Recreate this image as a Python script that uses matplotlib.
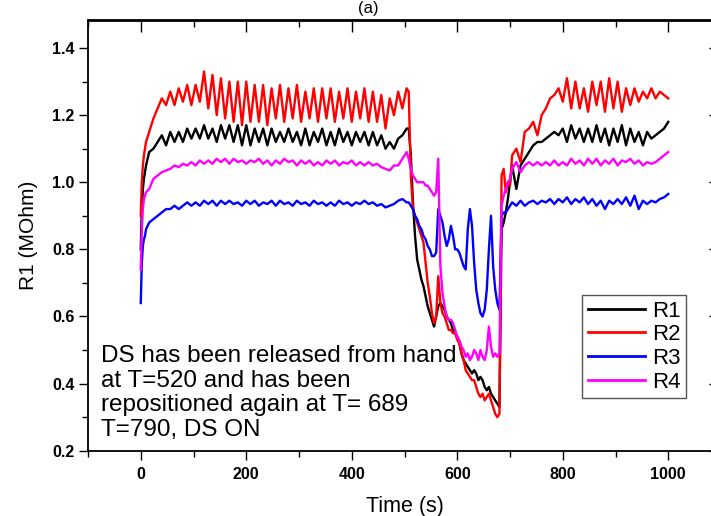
import matplotlib
matplotlib.use("Agg")
import matplotlib.pyplot as plt
from matplotlib.ticker import MultipleLocator

plt.rcParams['font.family'] = ['Liberation Sans', 'DejaVu Sans']

# ---- time grid (s) ----
time_a = [0, 2, 4, 6, 8, 10] + list(range(16, 505, 8))
time_b = list(range(508, 689, 4))
time_c = [692, 696, 700] + list(range(704, 1001, 8))
time_s = time_a + time_b + time_c

# ---- R1 (black) ----
r1_a = [0.80, 0.92, 0.98, 1.01, 1.03, 1.05,
        1.09, 1.10, 1.12, 1.14, 1.11, 1.15, 1.12, 1.15, 1.12, 1.16,
        1.13, 1.16, 1.13, 1.17, 1.13, 1.16, 1.12, 1.17, 1.13, 1.17,
        1.12, 1.17, 1.11, 1.17, 1.11, 1.16, 1.12, 1.16, 1.11, 1.16,
        1.12, 1.15, 1.12, 1.16, 1.12, 1.15, 1.11, 1.16, 1.11, 1.15,
        1.12, 1.16, 1.11, 1.15, 1.11, 1.16, 1.12, 1.15, 1.11, 1.15,
        1.12, 1.15, 1.11, 1.15, 1.11, 1.14, 1.10, 1.12, 1.10, 1.13,
        1.14, 1.16]
r1_b = [1.16, 1.08, 0.94, 0.84, 0.77, 0.74, 0.71, 0.69, 0.66, 0.63,
        0.61, 0.59, 0.57, 0.60, 0.63, 0.64, 0.63, 0.62, 0.60, 0.59,
        0.58, 0.56, 0.55, 0.54, 0.52, 0.49, 0.47, 0.46, 0.45, 0.44,
        0.43, 0.44, 0.43, 0.41, 0.42, 0.41, 0.39, 0.38, 0.39, 0.37,
        0.36, 0.35, 0.34, 0.33, 0.86, 0.88]
r1_c = [0.91, 0.95, 1.00,
        1.05, 0.98, 1.05, 1.07, 1.09, 1.11, 1.12, 1.12, 1.13, 1.14,
        1.15, 1.14, 1.16, 1.12, 1.17, 1.13, 1.16, 1.12, 1.16, 1.12,
        1.17, 1.12, 1.16, 1.11, 1.16, 1.12, 1.17, 1.11, 1.16, 1.12,
        1.15, 1.11, 1.15, 1.13, 1.14, 1.15, 1.16, 1.18]

# ---- R2 (red) ----
r2_a = [0.90, 1.00, 1.05, 1.08, 1.10, 1.12,
        1.15, 1.19, 1.22, 1.25, 1.23, 1.27, 1.23, 1.28, 1.24, 1.29,
        1.23, 1.29, 1.24, 1.33, 1.22, 1.32, 1.20, 1.31, 1.19, 1.30,
        1.18, 1.30, 1.17, 1.30, 1.18, 1.29, 1.18, 1.29, 1.17, 1.28,
        1.19, 1.29, 1.18, 1.28, 1.19, 1.29, 1.18, 1.27, 1.19, 1.28,
        1.18, 1.28, 1.19, 1.28, 1.18, 1.27, 1.19, 1.28, 1.18, 1.27,
        1.19, 1.28, 1.18, 1.27, 1.18, 1.26, 1.16, 1.25, 1.20, 1.27,
        1.22, 1.28]
r2_b = [1.27, 1.02, 0.92, 0.90, 0.88, 0.86, 0.84, 0.82, 0.76, 0.70,
        0.66, 0.61, 0.58, 0.60, 0.72, 0.64, 0.61, 0.60, 0.58, 0.56,
        0.56, 0.55, 0.55, 0.53, 0.52, 0.49, 0.47, 0.44, 0.43, 0.42,
        0.41, 0.41, 0.39, 0.37, 0.36, 0.37, 0.35, 0.36, 0.37, 0.35,
        0.33, 0.31, 0.30, 0.31, 1.02, 1.04]
r2_c = [0.97, 1.00, 0.99,
        1.08, 1.10, 1.06, 1.15, 1.16, 1.18, 1.14, 1.20, 1.22, 1.25,
        1.26, 1.28, 1.24, 1.31, 1.22, 1.30, 1.22, 1.28, 1.21, 1.30,
        1.23, 1.30, 1.21, 1.31, 1.22, 1.30, 1.21, 1.28, 1.23, 1.28,
        1.24, 1.27, 1.25, 1.28, 1.25, 1.27, 1.26, 1.25]

# ---- R3 (blue) ----
r3_a = [0.64, 0.76, 0.81, 0.83, 0.84, 0.86,
        0.88, 0.89, 0.90, 0.91, 0.92, 0.92, 0.93, 0.92, 0.93, 0.94,
        0.93, 0.94, 0.93, 0.945, 0.935, 0.945, 0.93, 0.945, 0.935, 0.945,
        0.935, 0.94, 0.93, 0.945, 0.935, 0.945, 0.93, 0.94, 0.935, 0.945,
        0.93, 0.945, 0.935, 0.94, 0.93, 0.945, 0.935, 0.94, 0.93, 0.945,
        0.935, 0.94, 0.93, 0.94, 0.93, 0.945, 0.935, 0.94, 0.93, 0.94,
        0.935, 0.945, 0.935, 0.94, 0.93, 0.935, 0.925, 0.93, 0.935, 0.945,
        0.95, 0.94]
r3_b = [0.94, 0.93, 0.92, 0.90, 0.89, 0.87, 0.86, 0.84, 0.83, 0.81,
        0.80, 0.78, 0.78, 0.79, 0.92, 0.90, 0.88, 0.84, 0.81, 0.83,
        0.87, 0.84, 0.80, 0.80, 0.79, 0.77, 0.75, 0.74, 0.86, 0.92,
        0.87, 0.76, 0.68, 0.64, 0.61, 0.60, 0.62, 0.68, 0.80, 0.90,
        0.75, 0.68, 0.64, 0.62, 0.90, 0.91]
r3_c = [0.91, 0.92, 0.93,
        0.94, 0.93, 0.945, 0.93, 0.94, 0.945, 0.935, 0.945, 0.94, 0.95,
        0.935, 0.95, 0.94, 0.955, 0.935, 0.95, 0.94, 0.955, 0.935, 0.95,
        0.93, 0.945, 0.92, 0.945, 0.935, 0.95, 0.935, 0.955, 0.93, 0.96,
        0.92, 0.945, 0.935, 0.945, 0.94, 0.95, 0.955, 0.965]

# ---- R4 (magenta) ----
r4_a = [0.74, 0.86, 0.92, 0.95, 0.96, 0.97,
        0.98, 1.01, 1.02, 1.03, 1.035, 1.04, 1.05, 1.045, 1.055, 1.05,
        1.06, 1.05, 1.065, 1.055, 1.065, 1.055, 1.07, 1.06, 1.07, 1.055,
        1.07, 1.06, 1.065, 1.055, 1.065, 1.06, 1.07, 1.055, 1.065, 1.05,
        1.065, 1.055, 1.07, 1.06, 1.065, 1.05, 1.065, 1.055, 1.065, 1.05,
        1.06, 1.05, 1.065, 1.055, 1.065, 1.05, 1.06, 1.055, 1.065, 1.05,
        1.06, 1.05, 1.06, 1.05, 1.055, 1.045, 1.04, 1.035, 1.05, 1.05,
        1.07, 1.09]
r4_b = [1.07, 1.04, 1.02, 1.01, 1.00, 1.00, 1.00, 1.00, 0.99, 0.99,
        0.98, 0.97, 0.96, 0.97, 1.07, 0.75, 0.67, 0.63, 0.60, 0.59,
        0.59, 0.58, 0.56, 0.54, 0.53, 0.51, 0.50, 0.48, 0.49, 0.47,
        0.48, 0.50, 0.49, 0.47, 0.50, 0.48, 0.47, 0.50, 0.57, 0.51,
        0.48, 0.49, 0.48, 0.49, 0.93, 0.96]
r4_c = [0.98, 1.00, 1.01,
        1.04, 1.06, 1.03, 1.05, 1.06, 1.05, 1.06, 1.05, 1.06, 1.05,
        1.065, 1.05, 1.06, 1.05, 1.07, 1.055, 1.065, 1.05, 1.07, 1.055,
        1.07, 1.05, 1.065, 1.055, 1.07, 1.05, 1.065, 1.06, 1.07, 1.055,
        1.065, 1.05, 1.06, 1.055, 1.06, 1.07, 1.08, 1.09]

series_names = ["R1", "R2", "R3", "R4"]
series_vals = [r1_a + r1_b + r1_c, r2_a + r2_b + r2_c,
               r3_a + r3_b + r3_c, r4_a + r4_b + r4_c]
colors = ["#000000", "#ff0000", "#0000ff", "#ff00ff"]

x_ticks = [0, 200, 400, 600, 800, 1000]
y_ticks = [0.2, 0.4, 0.6, 0.8, 1.0, 1.2, 1.4]

note = ("DS has been released from hand\n"
        "at T=520 and has been\n"
        "repositioned again at T= 689\n"
        "T=790, DS ON")

W, H = 711, 516
fig = plt.figure(figsize=(W / 100, H / 100), dpi=100)
ax = fig.add_axes([88 / W, (H - 450.7) / H, (721 - 88) / W, (450.7 - 20.5) / H])

for name, vals, c in zip(series_names, series_vals, colors):
    ax.plot(time_s, vals, color=c, lw=1.7, label=name)

ax.set_xlim(-100, 1100)
ax.set_ylim(0.2, 1.482)
ax.set_xticks(x_ticks)
ax.set_yticks(y_ticks)
ax.set_yticklabels([f"{v:.1f}" for v in y_ticks])
ax.xaxis.set_minor_locator(MultipleLocator(100))
ax.yaxis.set_minor_locator(MultipleLocator(0.1))
ax.tick_params(which='both', direction='out', top=False, right=False, width=1.0)
ax.tick_params(which='major', length=6.5)
ax.tick_params(which='minor', length=4)
for lab in ax.get_xticklabels() + ax.get_yticklabels():
    lab.set_fontweight('bold')
    lab.set_fontsize(11.5)
ax.tick_params(axis='x', pad=5)
ax.tick_params(axis='y', pad=3)

# inward ticks on top and right
secx = ax.secondary_xaxis('top')
secx.set_xticks(x_ticks)
secx.xaxis.set_minor_locator(MultipleLocator(100))
secx.tick_params(which='both', direction='in', labeltop=False, width=1.0)
secx.tick_params(which='major', length=8.5)
secx.tick_params(which='minor', length=5)
secy = ax.secondary_yaxis('right')
secy.set_yticks(y_ticks)
secy.yaxis.set_minor_locator(MultipleLocator(0.1))
secy.tick_params(which='both', direction='in', labelright=False, width=1.0)
secy.tick_params(which='major', length=8.5)
secy.tick_params(which='minor', length=5)

for sp in ax.spines.values():
    sp.set_linewidth(1.3)
secx.spines['top'].set_linewidth(1.3)
secy.spines['right'].set_linewidth(1.3)

ax.set_xlabel("Time (s)", fontsize=15.5, labelpad=10)
ax.set_ylabel("R1 (MOhm)", fontsize=15, labelpad=10)

fig.text(368 / W, 1 - 1 / H, "(a)", fontsize=12, ha='center', va='top')

fig.text(101 / W, 1 - 345 / H, note, fontsize=17.5, ha='left', va='top',
         linespacing=1.16)

leg = ax.legend(loc='upper left', bbox_to_anchor=(582 / W, 1 - 295 / H),
                bbox_transform=fig.transFigure, fontsize=16, frameon=True,
                fancybox=False, edgecolor='#555555', framealpha=1,
                handlelength=2.6, handletextpad=0.3, labelspacing=0.12,
                borderpad=0.25, borderaxespad=0)
leg.get_frame().set_linewidth(1.0)
for ln in leg.get_lines():
    ln.set_linewidth(2.0)

fig.savefig("out.png", dpi=100)
